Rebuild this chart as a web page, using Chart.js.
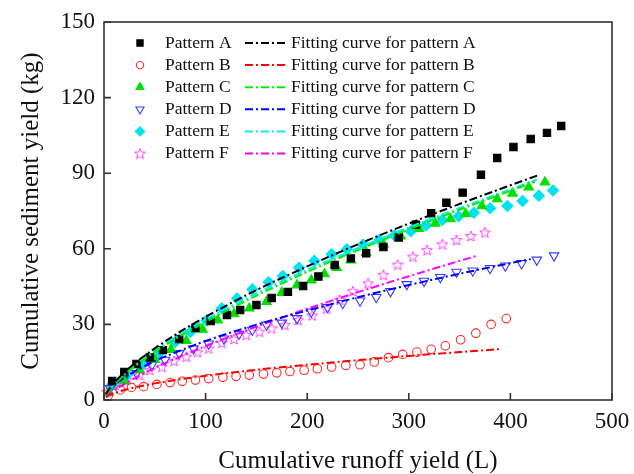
<!DOCTYPE html>
<html>
<head>
<meta charset="utf-8">
<script src="https://cdn.jsdelivr.net/npm/chart.js@4"></script>
<style>
html, body { margin: 0; padding: 0; background: #fff; }
</style>
</head>
<body>
<canvas id="chart" width="634" height="474"></canvas>
<script>
// measured points (cumulative runoff in L, cumulative sediment in kg)
const runoffA = [8, 20, 32, 45, 58, 74, 90, 105, 121, 134, 150, 165, 181, 196, 211, 227, 243, 258, 275, 290, 307, 322, 337, 353, 371, 387, 403, 420, 436, 450];
const sedA = [7.5, 11.1, 14.3, 16.9, 19.8, 24.2, 28.6, 31.3, 33.7, 35.7, 37.7, 40.5, 42.9, 45.2, 49, 53.6, 56.2, 58.2, 60.7, 64.5, 69.6, 74.1, 78.3, 82.3, 89.4, 96, 100.4, 103.6, 106, 108.7];

const runoffB = [4, 16, 27, 39, 52, 65, 77, 90, 103, 117, 130, 143, 157, 170, 183, 197, 210, 224, 238, 252, 266, 280, 294, 308, 322, 336, 351, 366, 381, 396];
const sedB = [1.6, 4.0, 5.0, 5.3, 6.2, 6.9, 7.4, 7.9, 8.5, 9.0, 9.4, 9.9, 10.3, 10.8, 11.3, 11.8, 12.4, 13.1, 13.7, 14.0, 15.1, 16.8, 18.1, 19.0, 20.1, 21.5, 23.9, 26.5, 30.0, 32.3];

const runoffC = [5, 20, 35, 50, 66, 81, 97, 112, 128, 143, 160, 175, 190, 204, 217, 229, 243, 258, 275, 292, 310, 326, 341, 356, 372, 387, 402, 418, 434];
const sedC = [3.0, 7.5, 12, 16, 20, 23.5, 28, 31.7, 34.1, 36.4, 39, 42.6, 45.6, 47.5, 50, 52.5, 55.5, 58.5, 61.8, 65, 68, 70.1, 71.8, 73.9, 77, 79.8, 82, 84.4, 86.4];

const runoffD = [6, 19, 32, 47, 60, 74, 88, 103, 118, 133, 146, 160, 175, 190, 204, 220, 235, 252, 268, 282, 298, 315, 331, 347, 363, 380, 395, 411, 426, 443];
const sedD = [4.6, 7.9, 10.6, 13.8, 15.9, 18.5, 20.4, 22.3, 24.3, 26.2, 27.8, 29.8, 30.6, 32.4, 35, 36.8, 38.4, 39.4, 40.8, 43.1, 45.9, 47.2, 48.7, 50.8, 51.3, 52.3, 53.3, 54.2, 55.6, 57.3];

const runoffE = [8, 23, 39, 54, 70, 85, 101, 116, 131, 146, 162, 176, 192, 207, 224, 239, 255, 271, 286, 302, 317, 333, 349, 364, 380, 397, 412, 428, 442];
const sedE = [6, 10, 14.5, 18.5, 23, 27, 31.5, 36.4, 40.3, 43.9, 46.7, 49.2, 52.5, 55.2, 57.8, 59.8, 61.7, 63.5, 65.3, 67, 69.3, 71.4, 72.9, 74.3, 76.1, 77, 79, 81.1, 83.1];

const runoffF = [3, 11, 22, 35, 45, 57, 69, 81, 92, 103, 116, 128, 140, 153, 165, 178, 191, 205, 219, 232, 245, 260, 275, 289, 304, 318, 333, 347, 361, 375];
const sedF = [3.3, 6, 7.9, 9.9, 11.9, 13.2, 15.6, 17.2, 19, 20.5, 22.7, 24.2, 25.8, 27.1, 28.4, 29.8, 31.7, 33.6, 36.3, 39.8, 43.2, 46.3, 49.7, 53.7, 56.9, 59.5, 61.8, 63.5, 65.1, 66.5];

// fitting curves
const fitRunoffA = [2, 5, 10, 25, 50, 75, 100, 150, 200, 250, 300, 350, 400, 428];
const fitSedA = [2.3, 4.3, 6.8, 12.8, 20.5, 27.1, 33.0, 43.6, 53.0, 61.8, 70.0, 77.8, 85.2, 89.3];
const fitRunoffB = [2, 5, 10, 25, 50, 75, 100, 150, 200, 250, 300, 350, 390];
const fitSedB = [1.1, 1.9, 2.7, 4.5, 6.6, 8.2, 9.6, 12.0, 14.0, 15.8, 17.5, 19.0, 20.2];
const fitRunoffC = [2, 5, 10, 25, 50, 75, 100, 150, 200, 250, 300, 350, 400, 424];
const fitSedC = [1.9, 3.7, 6.1, 11.6, 19.0, 25.3, 31.0, 41.4, 50.8, 59.5, 67.7, 75.5, 83.0, 86.6];
const fitRunoffD = [2, 5, 10, 25, 50, 75, 100, 150, 200, 250, 300, 350, 400, 420];
const fitSedD = [2.2, 3.8, 5.8, 10.1, 15.4, 19.6, 23.4, 29.9, 35.5, 40.8, 45.6, 50.1, 54.3, 55.9];
const fitRunoffE = [2, 5, 10, 25, 50, 75, 100, 150, 200, 250, 300, 350, 400, 426];
const fitSedE = [2.1, 4.0, 6.4, 12.2, 19.7, 26.1, 31.9, 42.3, 51.6, 60.3, 68.5, 76.2, 83.6, 87.4];
const fitRunoffF = [2, 5, 10, 25, 50, 75, 100, 150, 200, 250, 300, 350, 368];
const fitSedF = [1.1, 2.2, 3.8, 7.5, 12.7, 17.2, 21.4, 29.1, 36.2, 42.8, 49.1, 55.2, 57.3];

const seriesNames = ['Pattern A', 'Pattern B', 'Pattern C', 'Pattern D', 'Pattern E', 'Pattern F'];
const fitNames = ['Fitting curve for pattern A', 'Fitting curve for pattern B', 'Fitting curve for pattern C',
                  'Fitting curve for pattern D', 'Fitting curve for pattern E', 'Fitting curve for pattern F'];
const xTicks = [0, 100, 200, 300, 400, 500];
const yTicks = [0, 30, 60, 90, 120, 150];

const serif = "'Liberation Serif', 'Times New Roman', serif";
const dash = [8, 3, 2, 3];

function pairs(xs, ys) {
    return xs.map((x, i) => ({ x: x, y: ys[i] }));
}

// open five point star, used as pointStyle for pattern F
function makeStar(color, size) {
    const c = document.createElement('canvas');
    c.width = size; c.height = size;
    const g = c.getContext('2d');
    g.strokeStyle = color;
    g.lineWidth = 1;
    g.beginPath();
    for (let i = 0; i < 10; i++) {
        const r = i % 2 ? size * 0.2 : size * 0.47;
        const a = -Math.PI / 2 + i * Math.PI / 5;
        const px = size / 2 + r * Math.cos(a), py = size / 2 + 0.5 + r * Math.sin(a);
        if (i === 0) g.moveTo(px, py); else g.lineTo(px, py);
    }
    g.closePath();
    g.stroke();
    return c;
}

const markers = [
    { style: 'rect', color: '#000000', fill: '#000000', radius: 5.2, rotation: 0 },
    { style: 'circle', color: '#ff2a2a', fill: 'rgba(0,0,0,0)', radius: 4.3, rotation: 0 },
    { style: 'triangle', color: '#00e000', fill: '#00e000', radius: 5.5, rotation: 0 },
    { style: 'triangle', color: '#3b3bff', fill: 'rgba(0,0,0,0)', radius: 5.5, rotation: 180 },
    { style: 'rectRot', color: '#00e2f2', fill: '#00e2f2', radius: 5.5, rotation: 0 },
    { style: makeStar('#ff40ff', 12), color: '#ff40ff', fill: 'rgba(0,0,0,0)', radius: 6, rotation: 0 }
];
const lineColors = ['#000000', '#ff0000', '#00ee00', '#0000ff', '#00eeff', '#ff00ff'];

const measured = [pairs(runoffA, sedA), pairs(runoffB, sedB), pairs(runoffC, sedC),
                  pairs(runoffD, sedD), pairs(runoffE, sedE), pairs(runoffF, sedF)];
const fitted = [pairs(fitRunoffA, fitSedA), pairs(fitRunoffB, fitSedB), pairs(fitRunoffC, fitSedC),
                pairs(fitRunoffD, fitSedD), pairs(fitRunoffE, fitSedE), pairs(fitRunoffF, fitSedF)];

const datasets = [];
fitted.forEach((d, i) => {
    datasets.push({
        label: fitNames[i],
        data: d,
        showLine: true,
        borderColor: lineColors[i],
        borderWidth: 2,
        borderDash: dash,
        pointRadius: 0,
        cubicInterpolationMode: 'monotone',
        clip: false
    });
});
measured.forEach((d, i) => {
    const m = markers[i];
    datasets.push({
        label: seriesNames[i],
        data: d,
        showLine: false,
        pointStyle: m.style,
        pointRotation: m.rotation,
        pointRadius: m.radius,
        pointBackgroundColor: m.fill,
        pointBorderColor: m.color,
        pointBorderWidth: 1.1,
        clip: false
    });
});

// two column legend like the original plot
const pairLegend = {
    id: 'pairLegend',
    afterDraw(chart) {
        const ctx = chart.ctx;
        ctx.save();
        ctx.font = '17.5px ' + serif;
        ctx.textBaseline = 'middle';
        seriesNames.forEach((name, i) => {
            const y = 43 + i * 22.1;
            const m = markers[i];
            ctx.fillStyle = m.fill;
            ctx.strokeStyle = m.color;
            ctx.lineWidth = 1.1;
            Chart.helpers.drawPoint(ctx, { pointStyle: m.style, rotation: m.rotation, radius: m.radius * 0.85, borderWidth: 1.1 }, 140, y);
            ctx.fillStyle = '#111';
            ctx.fillText(name, 165, y);
            ctx.strokeStyle = lineColors[i];
            ctx.lineWidth = 2;
            ctx.setLineDash(dash);
            ctx.beginPath();
            ctx.moveTo(245, y);
            ctx.lineTo(286, y);
            ctx.stroke();
            ctx.setLineDash([]);
            ctx.fillStyle = '#111';
            ctx.fillText(fitNames[i], 291, y);
        });
        ctx.restore();
    }
};

// box around the plot with inward ticks
const frame = {
    id: 'frame',
    afterDatasetsDraw(chart) {
        const { ctx, chartArea: a, scales } = chart;
        ctx.save();
        ctx.strokeStyle = '#333';
        ctx.lineWidth = 1.6;
        ctx.strokeRect(a.left, a.top, a.right - a.left, a.bottom - a.top);
        ctx.beginPath();
        xTicks.forEach(v => {
            const px = scales.x.getPixelForValue(v);
            ctx.moveTo(px, a.bottom);
            ctx.lineTo(px, a.bottom - 7);
        });
        yTicks.forEach(v => {
            const py = scales.y.getPixelForValue(v);
            ctx.moveTo(a.left, py);
            ctx.lineTo(a.left + 7, py);
        });
        ctx.stroke();
        ctx.restore();
    }
};

new Chart(document.getElementById('chart').getContext('2d'), {
    type: 'scatter',
    data: { datasets: datasets },
    options: {
        responsive: false,
        animation: false,
        layout: { padding: { left: 0, right: 22, top: 22, bottom: 0 } },
        plugins: {
            legend: { display: false },
            tooltip: { enabled: false }
        },
        scales: {
            x: {
                type: 'linear',
                min: 0,
                max: 500,
                afterBuildTicks: s => { s.ticks = xTicks.map(v => ({ value: v })); },
                afterFit: s => { s.height = 74; s.paddingLeft = 0; s.paddingRight = 0; },
                grid: { display: false, drawTicks: false },
                border: { display: false },
                ticks: { font: { family: serif, size: 23 }, color: '#111', padding: 8, maxRotation: 0 },
                title: { display: true, text: 'Cumulative runoff yield (L)', color: '#111',
                         font: { family: serif, size: 25, lineHeight: 1 }, padding: { top: 0, bottom: 0 } }
            },
            y: {
                type: 'linear',
                min: 0,
                max: 150,
                afterBuildTicks: s => { s.ticks = yTicks.map(v => ({ value: v })); },
                afterFit: s => { s.width = 104; s.paddingTop = 0; s.paddingBottom = 0; },
                grid: { display: false, drawTicks: false },
                border: { display: false },
                ticks: { font: { family: serif, size: 23 }, color: '#111', padding: 9 },
                title: { display: true, text: 'Cumulative sediment yield (kg)', color: '#111',
                         font: { family: serif, size: 25, lineHeight: 1 }, padding: { top: 19, bottom: 0 } }
            }
        }
    },
    plugins: [frame, pairLegend]
});
</script>
</body>
</html>
